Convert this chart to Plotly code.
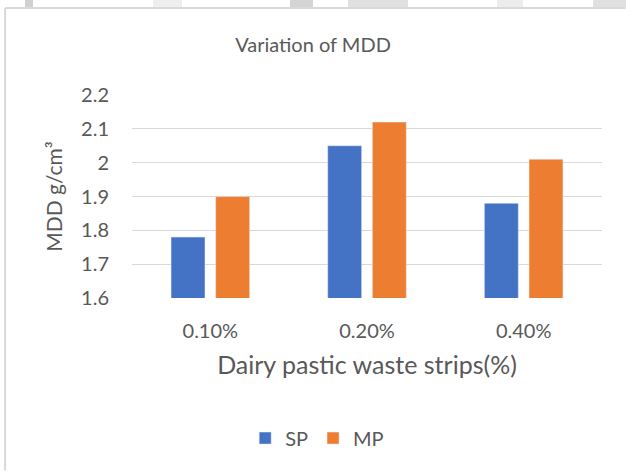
import plotly.graph_objects as go

categories = ["0.10%", "0.20%", "0.40%"]
sp_values = [1.78, 2.05, 1.88]
mp_values = [1.90, 2.12, 2.01]
y_ticks = [1.6, 1.7, 1.8, 1.9, 2.0, 2.1, 2.2]
y_tick_text = ["1.6", "1.7", "1.8", "1.9", "2", "2.1", "2.2"]

FONT = "Lato"
GREY = "#595959"

fig = go.Figure()
fig.add_trace(go.Bar(x=categories, y=sp_values, name="SP", marker_color="#4472C4"))
fig.add_trace(go.Bar(x=categories, y=mp_values, name="MP", marker_color="#ED7D31"))

fig.update_layout(
    width=626,
    height=474,
    margin=dict(l=132, r=24, t=95, b=176),
    paper_bgcolor="white",
    plot_bgcolor="white",
    font=dict(family=FONT, color=GREY, size=20),
    barmode="group",
    bargap=0.43,
    bargroupgap=0.24,
    title=dict(text="Variation of MDD", x=0.5, xanchor="center", y=0.905, yanchor="middle",
               font=dict(size=20, color=GREY, family=FONT)),
    legend=dict(orientation="h", x=0.394, xanchor="center", y=-0.69, yanchor="middle",
                font=dict(size=20, color=GREY), itemwidth=30, traceorder="normal"),
    showlegend=True,
)
fig.update_xaxes(
    showgrid=False,
    showline=False,
    ticks="",
    ticklabelstandoff=19,
    tickfont=dict(size=20, color=GREY),
    title=dict(text="Dairy pastic waste strips(%)", font=dict(size=25, color=GREY), standoff=15),
)
fig.update_yaxes(
    range=[1.6, 2.2],
    tickvals=y_ticks,
    ticktext=y_tick_text,
    showgrid=True,
    gridcolor="#d9d9d9",
    gridwidth=1,
    zeroline=False,
    showline=False,
    ticks="",
    ticklabelstandoff=22,
    tickfont=dict(size=20, color=GREY),
    title=dict(text="MDD g/cm³", font=dict(size=21, color=GREY), standoff=12),
)

# chart frame: top and left edges only (the rest is cut off in the source)
frame = dict(color="#d9d9d9", width=2)
fig.add_shape(type="line", xref="paper", yref="paper", x0=-0.270, x1=1.05, y0=1.4286, y1=1.4286, line=frame)
fig.add_shape(type="line", xref="paper", yref="paper", x0=-0.270, x1=-0.270, y0=-0.85, y1=1.4286, line=frame)

# faint scan marks above the frame
for x0, x1, col in [(25, 33, "#d0d0d0"), (153, 182, "#eeeeee"), (290, 313, "#d4d4d4"),
                    (348, 408, "#e0e0e0"), (497, 523, "#ececec"), (593, 626, "#e0e0e0")]:
    fig.add_shape(type="rect", xref="paper", yref="paper",
                  x0=(x0 - 132) / 470, x1=(x1 - 132) / 470, y0=1.4335, y1=1.468,
                  line=dict(width=0), fillcolor=col, layer="below")

fig.write_html(
    "out.html",
    post_script="document.body.style.margin='0';"
                "document.documentElement.style.overflow='hidden';"
                "document.body.style.overflow='hidden';",
    config={"displayModeBar": False},
)
